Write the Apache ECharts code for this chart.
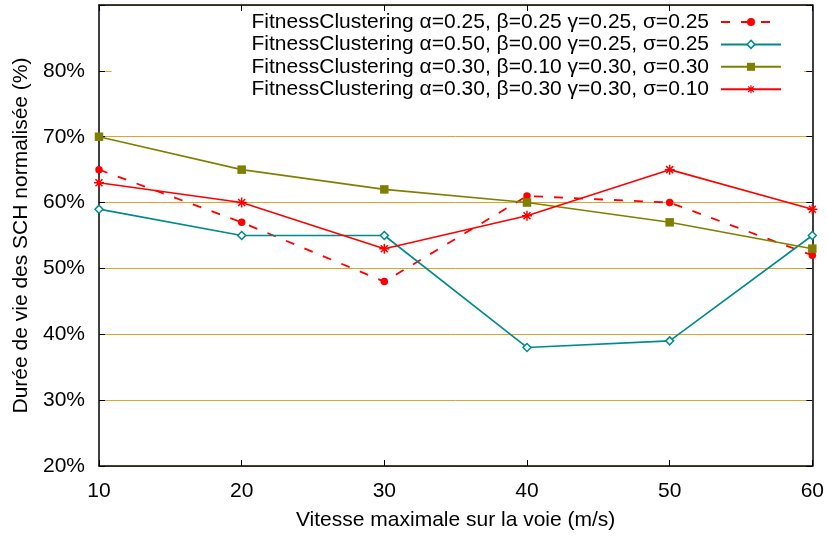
<!DOCTYPE html>
<html>
<head>
<meta charset="utf-8">
<script src="https://cdn.jsdelivr.net/npm/echarts@6/dist/echarts.min.js"></script>
<style>
  html, body { margin: 0; padding: 0; background: #fff; }
  #chart { width: 827px; height: 536px; }
</style>
</head>
<body>
<div id="chart"></div>
<script>
// Maximum lane speed (m/s)
const speeds = [10, 20, 30, 40, 50, 60];

// Normalised CH lifetime (%) for each weighting of the fitness function
const seriesNames = [
  'FitnessClustering \u03b1=0.25, \u03b2=0.25 \u03b3=0.25, \u03c3=0.25',
  'FitnessClustering \u03b1=0.50, \u03b2=0.00 \u03b3=0.25, \u03c3=0.25',
  'FitnessClustering \u03b1=0.30, \u03b2=0.10 \u03b3=0.30, \u03c3=0.30',
  'FitnessClustering \u03b1=0.30, \u03b2=0.30 \u03b3=0.30, \u03c3=0.10'
];
const lifetimeA = [65, 57, 48, 61, 60, 52];
const lifetimeB = [59, 55, 55, 38, 39, 55];
const lifetimeC = [70, 65, 62, 60, 57, 53];
const lifetimeD = [63, 60, 53, 58, 65, 59];

// Tick values
const yTicks = { min: 20, max: 90, step: 10 };
const xTicks = { min: 10, max: 60, step: 10 };

const FONT = 'Liberation Sans, Arial, sans-serif';
const RED = '#ff0000';
const TEAL = '#008b8b';
const OLIVE = '#808000';
const GRID = '#dea52c';

const pairs = vals => speeds.map((s, i) => [s, vals[i]]);
const asterisk = 'path://M5,0L5,10M0,5L10,5M1.5,1.5L8.5,8.5M1.5,8.5L8.5,1.5';

const frameAxis = {
  axisLine: { show: true, lineStyle: { color: '#000', width: 1.5 } },
  axisTick: { show: true, inside: true, length: 6, lineStyle: { color: '#000', width: 1 } }
};

const chart = echarts.init(document.getElementById('chart'), null, { renderer: 'canvas' });
chart.setOption({
  animation: false,
  backgroundColor: '#fff',
  textStyle: { fontFamily: FONT },
  grid: { left: 99, right: 11, top: 5, bottom: 69, containLabel: false },
  legend: {
    orient: 'vertical',
    right: 23,
    top: 11,
    align: 'right',
    itemWidth: 60,
    itemHeight: 10,
    itemGap: 0.4,
    padding: [0, 22, 4, 140],
    backgroundColor: '#fff',
    data: [
      { name: seriesNames[0] },
      { name: seriesNames[1], itemStyle: { borderWidth: 1.5 } },
      { name: seriesNames[2] },
      { name: seriesNames[3], itemStyle: { borderWidth: 1.2 } }
    ],
    textStyle: { fontFamily: FONT, fontSize: 21, lineHeight: 22, color: '#000', padding: [0, 7, 0, 0] }
  },
  xAxis: [
    Object.assign({
      type: 'value', position: 'bottom',
      min: xTicks.min, max: xTicks.max, interval: xTicks.step,
      name: 'Vitesse maximale sur la voie (m/s)',
      nameLocation: 'middle', nameGap: 44,
      nameTextStyle: { fontFamily: FONT, fontSize: 21, color: '#000' },
      axisLabel: { color: '#000', fontSize: 21, fontFamily: FONT, margin: 15 },
      splitLine: { show: false }
    }, frameAxis),
    Object.assign({
      type: 'value', position: 'top',
      min: xTicks.min, max: xTicks.max, interval: xTicks.step,
      axisLabel: { show: false }, splitLine: { show: false }
    }, frameAxis)
  ],
  yAxis: [
    Object.assign({
      type: 'value', position: 'left',
      min: yTicks.min, max: yTicks.max, interval: yTicks.step,
      name: 'Dur\u00e9e de vie des SCH normalis\u00e9e (%)',
      nameLocation: 'middle', nameGap: 65,
      nameTextStyle: { fontFamily: FONT, fontSize: 21, color: '#000' },
      axisLabel: {
        color: '#000', fontSize: 21, fontFamily: FONT, margin: 14,
        formatter: v => (v === yTicks.max ? '' : v + '%')
      },
      splitLine: { show: true, lineStyle: { color: GRID, width: 1 } }
    }, frameAxis),
    Object.assign({
      type: 'value', position: 'right',
      min: yTicks.min, max: yTicks.max, interval: yTicks.step,
      axisLabel: { show: false }, splitLine: { show: false }
    }, frameAxis)
  ],
  series: [
    {
      name: seriesNames[0], type: 'line', data: pairs(lifetimeA),
      symbol: 'circle', symbolSize: 7.5,
      itemStyle: { color: RED },
      lineStyle: { color: RED, width: 1.8, type: [9, 11] }
    },
    {
      name: seriesNames[1], type: 'line', data: pairs(lifetimeB),
      symbol: 'diamond', symbolSize: 8,
      itemStyle: { color: '#fff', borderColor: TEAL, borderWidth: 1.5 },
      lineStyle: { color: TEAL, width: 1.6 }
    },
    {
      name: seriesNames[2], type: 'line', data: pairs(lifetimeC),
      symbol: 'rect', symbolSize: 8.5,
      itemStyle: { color: OLIVE },
      lineStyle: { color: OLIVE, width: 1.6 }
    },
    {
      name: seriesNames[3], type: 'line', data: pairs(lifetimeD),
      symbol: asterisk, symbolSize: 10,
      itemStyle: { color: 'rgba(0,0,0,0)', borderColor: RED, borderWidth: 1.5 },
      lineStyle: { color: RED, width: 1.6 }
    }
  ]
});
</script>
</body>
</html>
